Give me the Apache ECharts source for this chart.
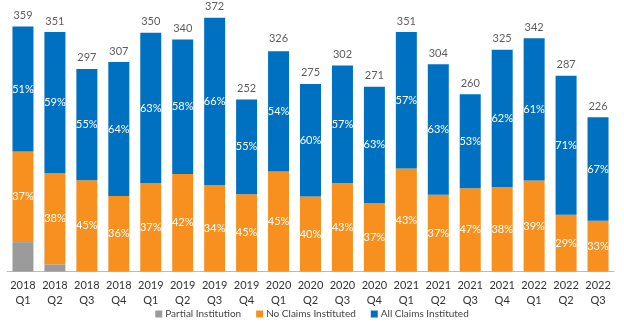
<!DOCTYPE html>
<html>
<head>
<meta charset="utf-8">
<script src="https://cdn.jsdelivr.net/npm/echarts@6/dist/echarts.min.js"></script>
<style>html,body{margin:0;padding:0;background:#fff}#c{width:624px;height:327px}</style>
</head>
<body>
<div id="c"></div>
<script>
const categories = ['2018\nQ1','2018\nQ2','2018\nQ3','2018\nQ4','2019\nQ1','2019\nQ2','2019\nQ3','2019\nQ4','2020\nQ1','2020\nQ2','2020\nQ3','2020\nQ4','2021\nQ1','2021\nQ2','2021\nQ3','2021\nQ4','2022\nQ1','2022\nQ2','2022\nQ3'];
const totals = [359,351,297,307,350,340,372,252,326,275,302,271,351,304,260,325,342,287,226];
const partialPct = [12,3,0,0,0,0,0,0,0,0,0,0,0,0,0,0,0,0,0];
const noClaimsPct = [37,38,45,36,37,42,34,45,45,40,43,37,43,37,47,38,39,29,33];
const allClaimsPct = [51,59,55,64,63,58,66,55,54,60,57,63,57,63,53,62,61,71,67];

const toVals = pct => pct.map((p,i) => totals[i]*p/100);
const font = 'Lato, "Open Sans", sans-serif';
const pctLabel = pct => ({
  show: true, position: 'inside', color: '#fff', fontSize: 11, fontFamily: font,
  formatter: p => pct[p.dataIndex] > 0 ? pct[p.dataIndex] + '%' : ''
});

const chart = echarts.init(document.getElementById('c'), null, {renderer:'canvas'});
chart.setOption({
  animation: false,
  grid: {left: 7, right: 10, top: 12.3, bottom: 55.5},
  legend: {
    bottom: 3, left: 'center', itemWidth: 7, itemHeight: 7, itemGap: 15,
    icon: 'rect',
    textStyle: {fontSize: 10, color: '#444', fontFamily: font, padding: [0,0,0,-2]},
    data: ['Partial Institution','No Claims Instituted','All Claims Instituted']
  },
  xAxis: {
    type: 'category', data: categories,
    axisLine: {lineStyle: {color: '#bbb'}}, axisTick: {show: false},
    axisLabel: {color: '#333', fontSize: 11, fontFamily: font, lineHeight: 14.5, margin: 7, interval: 0}
  },
  yAxis: {type: 'value', min: 0, max: 380, show: false, splitLine: {show: false}},
  series: [
    {name: 'Partial Institution', type: 'bar', stack: 's', barWidth: 21, data: toVals(partialPct),
     itemStyle: {color: '#9b9b9b'}},
    {name: 'No Claims Instituted', type: 'bar', stack: 's', barWidth: 21, data: toVals(noClaimsPct),
     itemStyle: {color: '#F7901E'}, label: pctLabel(noClaimsPct)},
    {name: 'All Claims Instituted', type: 'bar', stack: 's', barWidth: 21, data: toVals(allClaimsPct),
     itemStyle: {color: '#0070C0'}, label: pctLabel(allClaimsPct)},
    {name: 'Total', type: 'scatter', data: totals, symbol: 'circle', symbolSize: 1,
     itemStyle: {color: 'rgba(0,0,0,0)'}, silent: true, z: 5,
     label: {show: true, position: 'top', distance: 5, color: '#333', fontSize: 11, fontFamily: font,
             formatter: p => String(p.value)}}
  ]
});
</script>
</body>
</html>
